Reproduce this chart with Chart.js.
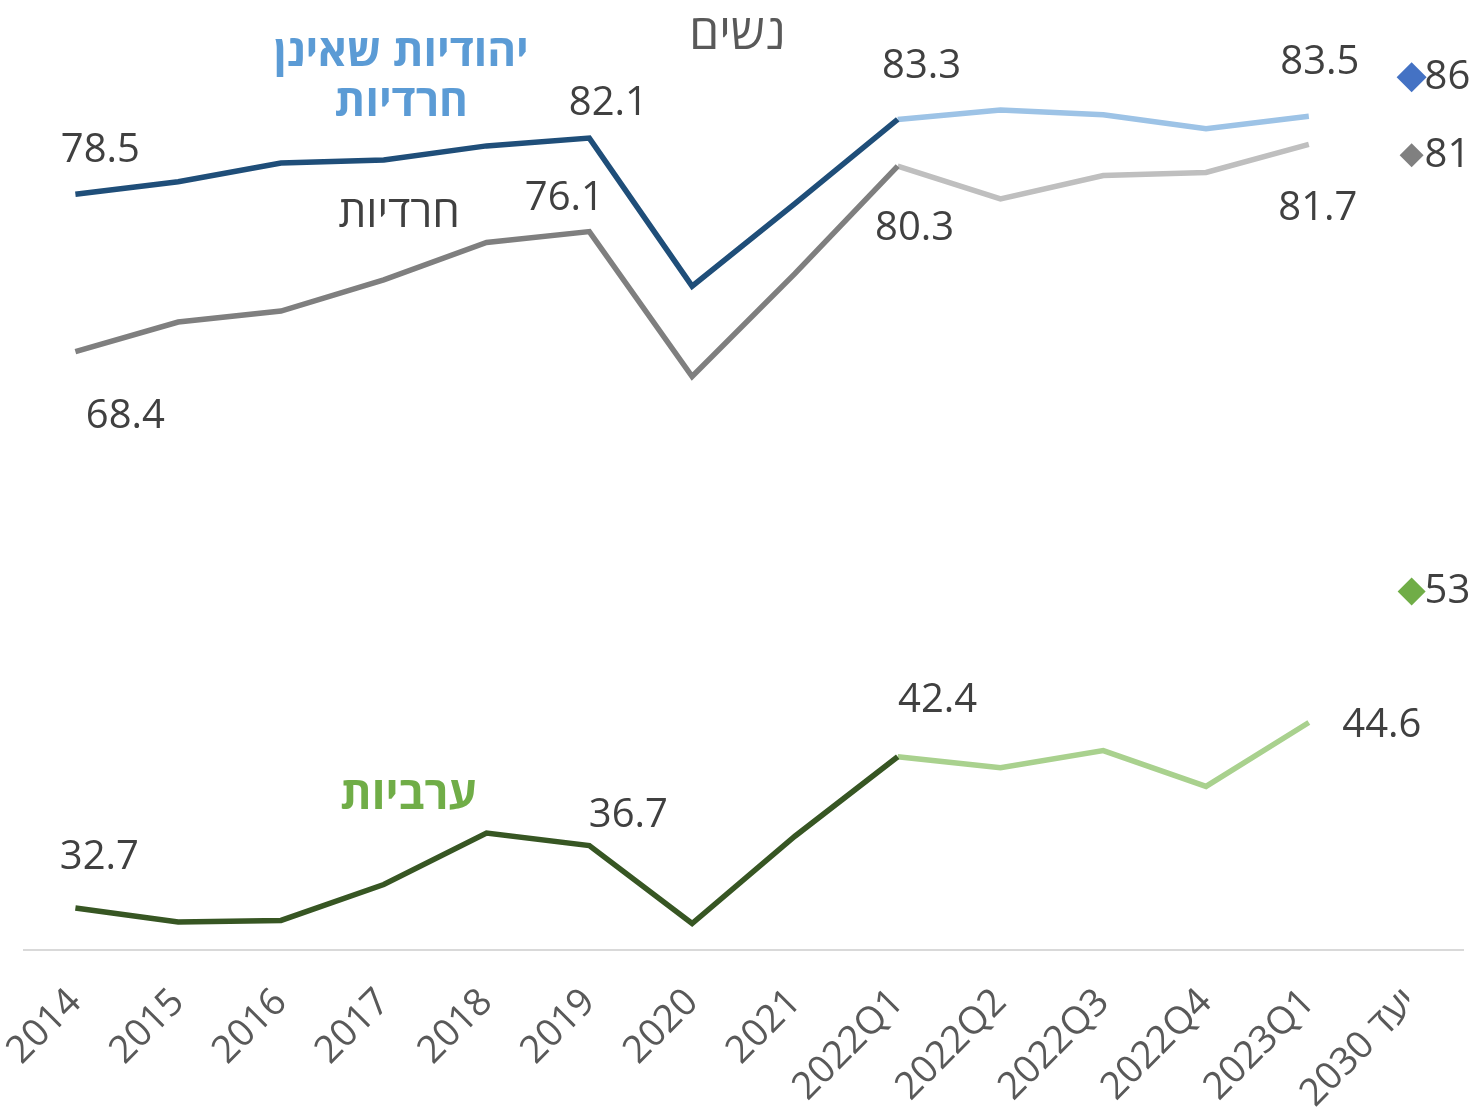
<!DOCTYPE html>
<html lang="he">
<head>
<meta charset="utf-8">
<title>נשים</title>
<script src="https://cdn.jsdelivr.net/npm/chart.js@4.4.1/dist/chart.umd.min.js"></script>
<style>
  html, body { margin: 0; background: #fff; }
  #wrap { width: 1478px; height: 1116px; position: relative; }
</style>
</head>
<body>
<div id="wrap"><canvas id="chart"></canvas></div>
<script>
const categories = ["2014", "2015", "2016", "2017", "2018", "2019", "2020", "2021",
  "2022Q1", "2022Q2", "2022Q3", "2022Q4", "2023Q1", "\u2067יעד 2030\u2069"];

// employment rates, women 25-64
const nonHaredi = [78.5, 79.3, 80.5, 80.7, 81.6, 82.1, 72.6, 77.9, 83.3, 83.9, 83.6, 82.7, 83.5];
const haredi    = [68.4, 70.3, 71.0, 73.0, 75.4, 76.1, 66.8, 73.4, 80.3, 78.2, 79.7, 79.9, 81.7];
const arab      = [32.7, 31.8, 31.9, 34.2, 37.5, 36.7, 31.7, 37.3, 42.4, 41.7, 42.8, 40.5, 44.6];
const targets   = [86, 81, 53]; // non-haredi, haredi, arab

const FONT = "'Open Sans', 'Noto Sans', 'DejaVu Sans', sans-serif";
const QUARTERS_FROM = 8; // 2022Q1

// keep only the points between from and to (inclusive)
function part(arr, from, to) {
  return categories.map((c, i) => (i >= from && i <= to && arr[i] != null) ? arr[i] : null);
}
function target(v) {
  return categories.map((c, i) => i === categories.length - 1 ? v : null);
}

function line(data, color, marks) {
  return { data, borderColor: color, borderWidth: 5.5, pointRadius: 0, tension: 0,
           fill: false, spanGaps: false, marks: marks || [] };
}
function diamond(v, color, r) {
  return { data: target(v), showLine: false, pointStyle: "rectRot", pointRadius: r,
           pointBackgroundColor: color, pointBorderWidth: 0, borderColor: color,
           marks: [{ i: categories.length - 1, dx: 13, dy: 0, align: "left" }] };
}

// value labels drawn next to chosen points
const valueLabels = {
  id: "valueLabels",
  afterDatasetsDraw(chart) {
    const ctx = chart.ctx;
    ctx.save();
    ctx.font = "40px " + FONT;
    ctx.fillStyle = "#404040";
    ctx.textBaseline = "middle";
    chart.data.datasets.forEach((ds, di) => {
      const meta = chart.getDatasetMeta(di);
      (ds.marks || []).forEach(m => {
        const pt = meta.data[m.i];
        const v = ds.data[m.i];
        if (!pt || v == null) return;
        ctx.textAlign = m.align || "center";
        const txt = Number.isInteger(v) ? String(v) : v.toFixed(1);
        ctx.fillText(txt, pt.x + m.dx, pt.y + m.dy);
      });
    });
    ctx.restore();
  }
};

// series names and title, anchored on the scales
const notes = [
  { text: "נשים", x: 6.44, y: 88.7, font: "48px " + FONT, color: "#595959" },
  { text: "יהודיות שאינן", x: 3.17, y: 87.5, font: "bold 44px " + FONT, color: "#5B9BD5" },
  { text: "חרדיות", x: 3.17, y: 84.3, font: "bold 44px " + FONT, color: "#5B9BD5" },
  { text: "חרדיות", x: 3.15, y: 77.2, font: "44px " + FONT, color: "#404040" },
  { text: "ערביות", x: 3.24, y: 39.9, font: "bold 45px " + FONT, color: "#70AD47" }
];
const notesPlugin = {
  id: "notes",
  afterDraw(chart) {
    const { ctx, scales: { x, y } } = chart;
    ctx.save();
    ctx.textAlign = "center";
    ctx.textBaseline = "middle";
    ctx.direction = "rtl";
    notes.forEach(n => {
      ctx.font = n.font;
      ctx.fillStyle = n.color;
      ctx.fillText(n.text, x.getPixelForValue(n.x), y.getPixelForValue(n.y));
    });
    ctx.restore();
  }
};

new Chart(document.getElementById("chart"), {
  type: "line",
  data: {
    labels: categories,
    datasets: [
      line(part(nonHaredi, 0, QUARTERS_FROM), "#1F4E79", [
        { i: 0, dx: 25, dy: -44 }, { i: 5, dx: 19, dy: -34 }, { i: 8, dx: 24, dy: -53 }]),
      line(part(nonHaredi, QUARTERS_FROM, 12), "#9DC3E6", [
        { i: 12, dx: 11, dy: -54 }]),
      line(part(haredi, 0, QUARTERS_FROM), "#7F7F7F", [
        { i: 0, dx: 50, dy: 65 }, { i: 5, dx: -25, dy: -33 }, { i: 8, dx: 17, dy: 62 }]),
      line(part(haredi, QUARTERS_FROM, 12), "#BFBFBF", [
        { i: 12, dx: 9, dy: 64 }]),
      line(part(arab, 0, QUARTERS_FROM), "#375623", [
        { i: 0, dx: 24, dy: -50 }, { i: 5, dx: 39, dy: -30 }, { i: 8, dx: 40, dy: -56 }]),
      line(part(arab, QUARTERS_FROM, 12), "#A9D18E", [
        { i: 12, dx: 73, dy: 3 }]),
      diamond(targets[0], "#4472C4", 15),
      diamond(targets[1], "#808080", 12),
      diamond(targets[2], "#70AD47", 14)
    ]
  },
  options: {
    responsive: true,
    maintainAspectRatio: false,
    animation: false,
    layout: { padding: { top: 7, left: 24, right: 4, bottom: 0 } },
    plugins: { legend: { display: false }, tooltip: { enabled: false } },
    scales: {
      x: {
        offset: true,
        grid: { display: false, drawTicks: false },
        border: { display: true, color: "#D9D9D9", width: 2 },
        ticks: {
          autoSkip: false, minRotation: 45, maxRotation: 45, padding: 30,
          color: "#595959", font: { size: 38, family: FONT }
        },
        afterFit(scale) {
          scale.height = 166;
          scale.paddingLeft = 0;
          scale.paddingRight = 0;
        }
      },
      y: { display: false, min: 30, max: 90 }
    }
  },
  plugins: [valueLabels, notesPlugin]
});
</script>
</body>
</html>
